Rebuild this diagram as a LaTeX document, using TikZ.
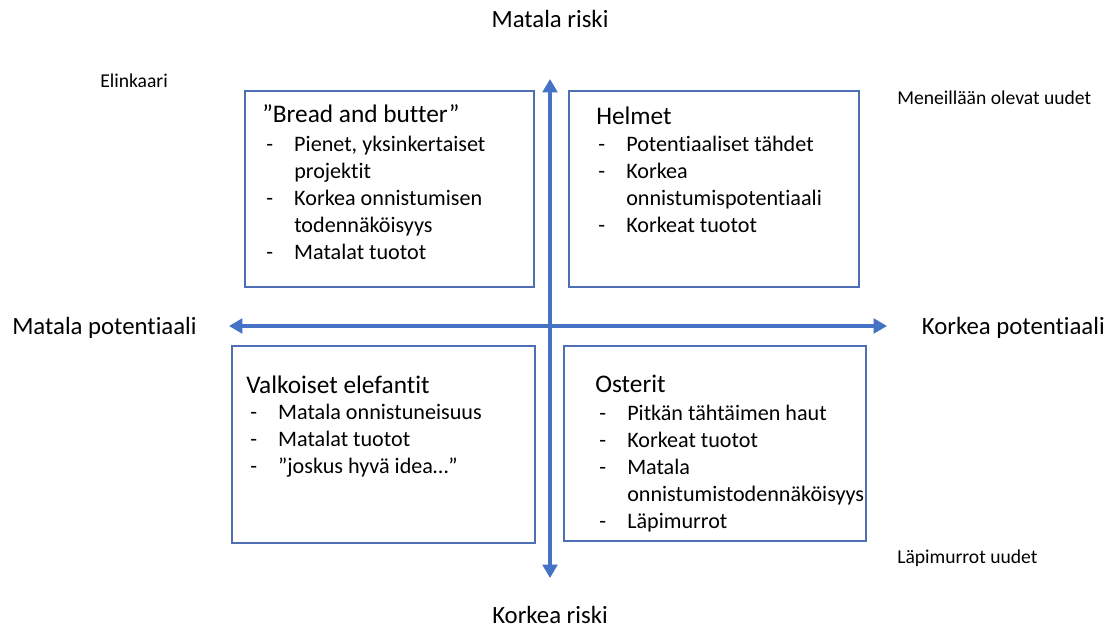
\documentclass[tikz,border=0pt]{standalone}
\usepackage{fontspec}
\setmainfont{Carlito}[Ligatures=CommonOff]
\usetikzlibrary{arrows.meta}
\definecolor{axisblue}{HTML}{4472C4}
\definecolor{boxblue}{HTML}{4F6FB5}
\newlength{\mypx}\setlength{\mypx}{0.75pt}
\newcommand{\bul}{\makebox[28\mypx][l]{-}}
\newcommand{\cont}{\hspace*{28\mypx}}
\newcommand{\ttlfont}{\fontsize{19}{23}\selectfont}
\tikzset{
  quad/.style={draw=boxblue, line width=0.8pt, fill=white},
  quadtext/.style={anchor=north west, align=left, inner sep=0pt,
    font=\fontsize{16.6}{20.25}\selectfont},
  axis/.style={draw=axisblue, line width=2.3pt, -{Triangle[length=10pt,width=11pt]}},
  biglabel/.style={font=\fontsize{18.6}{22}\selectfont, inner sep=0pt},
  smalllabel/.style={font=\fontsize{14.7}{17}\selectfont, inner sep=0pt}
}
\begin{document}
\begin{tikzpicture}[x=0.75pt,y=-0.75pt]
\useasboundingbox[fill=white] (0,0) rectangle (1117,628);

% quadrant boxes
\draw[quad] (245,91) rectangle (534,287);
\draw[quad] (569,91) rectangle (859,287);
\draw[quad] (232,346) rectangle (535,543);
\draw[quad] (564,346) rectangle (866,541);

% axes
\coordinate (c) at (550,326);
\coordinate (top) at (550,79);
\coordinate (bot) at (550,578);
\coordinate (lft) at (229,326);
\coordinate (rgt) at (887,326);
\draw[axis] (c) -- (top);
\draw[axis] (c) -- (bot);
\draw[axis] (c) -- (lft);
\draw[axis] (c) -- (rgt);

% axis labels
\node[biglabel] (lowrisk) at (550,19) {Matala riski};
\node[biglabel] (highrisk) at (550,615) {Korkea riski};
\node[biglabel, anchor=west] (lowpot) at (12,328) {Matala potentiaali};
\node[biglabel, anchor=east] (highpot) at (1105,328) {Korkea potentiaali};

% corner notes
\node[smalllabel, anchor=west] (life) at (100,81) {Elinkaari};
\node[smalllabel, anchor=west] (ongoing) at (897,98) {Meneillään olevat uudet};
\node[smalllabel, anchor=west] (breakthru) at (897,558) {Läpimurrot uudet};

% quadrant contents
\node[quadtext] (tl) at (262,104) {{\ttlfont ”Bread and butter”}\\[2pt]
\hspace*{4\mypx}\bul Pienet, yksinkertaiset\\
\hspace*{4\mypx}\cont projektit\\
\hspace*{4\mypx}\bul Korkea onnistumisen\\
\hspace*{4\mypx}\cont todennäköisyys\\
\hspace*{4\mypx}\bul Matalat tuotot};

\node[quadtext] (tr) at (596,107) {{\ttlfont Helmet}\\[-0.25pt]
\hspace*{2\mypx}\bul Potentiaaliset tähdet\\
\hspace*{2\mypx}\bul Korkea\\
\hspace*{2\mypx}\cont onnistumispotentiaali\\
\hspace*{2\mypx}\bul Korkeat tuotot};

\node[quadtext] (bl) at (246,376) {{\ttlfont Valkoiset elefantit}\\[-1pt]
\hspace*{4\mypx}\bul Matala onnistuneisuus\\
\hspace*{4\mypx}\bul Matalat tuotot\\
\hspace*{4\mypx}\bul ”joskus hyvä idea…”};

\node[quadtext] (br) at (595,375) {{\ttlfont Osterit}\\[0.5pt]
\hspace*{4\mypx}\bul Pitkän tähtäimen haut\\
\hspace*{4\mypx}\bul Korkeat tuotot\\
\hspace*{4\mypx}\bul Matala\\
\hspace*{4\mypx}\cont onnistumistodennäköisyys\\
\hspace*{4\mypx}\bul Läpimurrot};
\end{tikzpicture}
\end{document}
